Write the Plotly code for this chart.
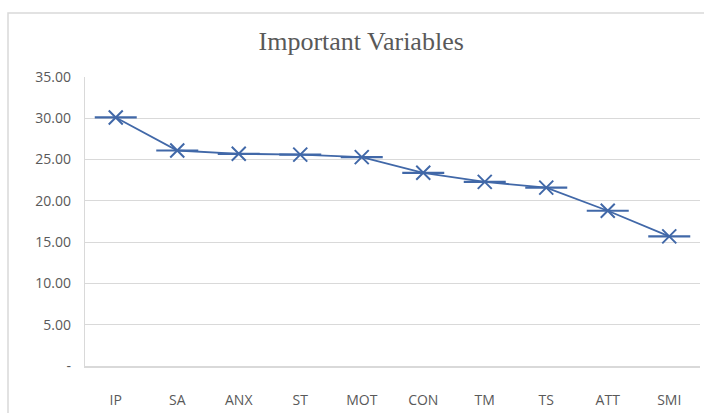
import plotly.graph_objects as go

categories = ["IP", "SA", "ANX", "ST", "MOT", "CON", "TM", "TS", "ATT", "SMI"]
values = [30.1, 26.1, 25.7, 25.6, 25.3, 23.4, 22.3, 21.6, 18.8, 15.7]
ytick_vals = [0, 5, 10, 15, 20, 25, 30, 35]
ytick_text = ["-", "5.00", "10.00", "15.00", "20.00", "25.00", "30.00", "35.00"]

color = "#4168A8"
fig = go.Figure()
fig.add_trace(go.Scatter(
    x=categories, y=values, mode="lines+markers",
    line=dict(color=color, width=1.8),
    marker=dict(symbol="line-ew-open", size=30, color=color, line=dict(color=color, width=2.2)),
    showlegend=False, hoverinfo="skip"))
fig.add_trace(go.Scatter(
    x=categories, y=values, mode="markers",
    marker=dict(symbol="x-thin-open", size=14, color=color, line=dict(color=color, width=2)),
    showlegend=False))

fig.update_layout(
    width=704, height=413,
    margin=dict(l=85, r=4, t=77, b=47),
    paper_bgcolor="white", plot_bgcolor="white",
    title=dict(text="Important Variables", x=0.513, xanchor="center", y=0.902, yanchor="middle",
               font=dict(family="Liberation Serif", size=26, color="#595959")),
    xaxis=dict(type="category", range=[-0.5, 9.5], showgrid=False,
               showline=True, linecolor="#d9d9d9", linewidth=1.5,
               ticks="outside", ticklen=20, tickcolor="rgba(0,0,0,0)",
               tickfont=dict(family="Open Sans", size=14, color="#595959")),
    yaxis=dict(range=[0, 35], tickvals=ytick_vals, ticktext=ytick_text,
               showgrid=True, gridcolor="#d9d9d9", gridwidth=1.3,
               showline=True, linecolor="#d9d9d9", linewidth=1.3, zeroline=False,
               ticks="outside", ticklen=10, tickcolor="rgba(0,0,0,0)",
               tickfont=dict(family="Open Sans", size=14, color="#595959")),
    shapes=[dict(type="rect", xref="paper", yref="paper",
                 x0=(8 - 85) / 615, x1=1.2, y0=-0.5, y1=1 + (77 - 13) / 289,
                 line=dict(color="#d9d9d9", width=1.5), fillcolor="rgba(0,0,0,0)", layer="below")],
)
fig.write_html("out.html", config={"displayModeBar": False})
with open("out.html", "r", encoding="utf-8") as f:
    html = f.read()
html = html.replace("<head>", "<head><style>html,body{margin:0;padding:0;overflow:hidden;}</style>", 1)
with open("out.html", "w", encoding="utf-8") as f:
    f.write(html)
